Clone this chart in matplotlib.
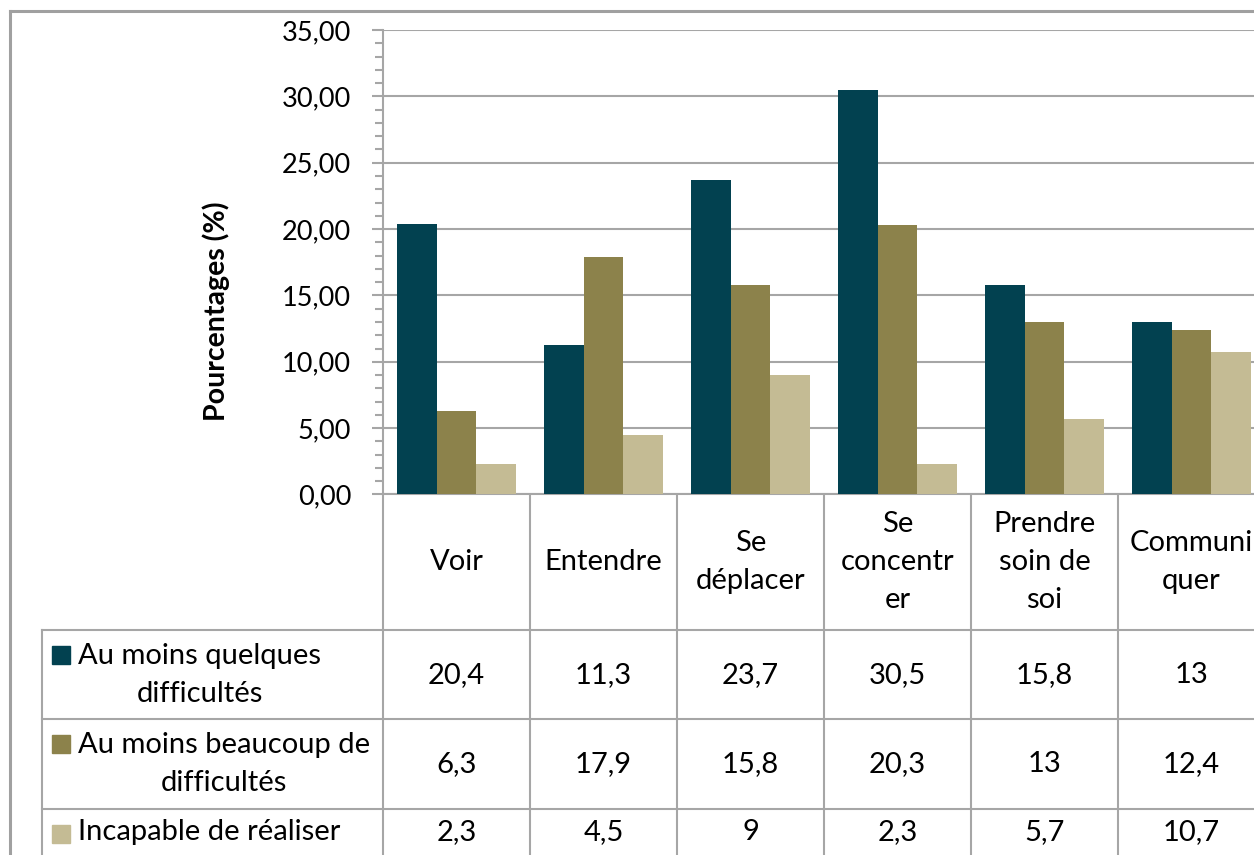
import matplotlib.pyplot as plt
import matplotlib.transforms as mtransforms
from matplotlib.patches import Rectangle
from matplotlib.lines import Line2D
from matplotlib.ticker import MultipleLocator, FuncFormatter

# données
categories = ["Voir", "Entendre", "Se\ndéplacer", "Se\nconcentr\ner",
              "Prendre\nsoin de\nsoi", "Communi\nquer"]
series = ["Au moins quelques\ndifficultés",
          "Au moins beaucoup de\ndifficultés",
          "Incapable de réaliser"]
quelques = [20.4, 11.3, 23.7, 30.5, 15.8, 13]
beaucoup = [6.3, 17.9, 15.8, 20.3, 13, 12.4]
incapable = [2.3, 4.5, 9, 2.3, 5.7, 10.7]
values = [quelques, beaucoup, incapable]
colors = ["#024150", "#8C824B", "#C4BB94"]

plt.rcParams["font.family"] = ["Lato", "DejaVu Sans"]
GRID = "#A6A6A6"
W, H = 1254, 855

fig = plt.figure(figsize=(W / 100, H / 100), dpi=100)

# zone de tracé (en pixels)
x0, x1, ytop, ybot = 383, 1265, 30, 494.5
ax = fig.add_axes([x0 / W, 1 - ybot / H, (x1 - x0) / W, (ybot - ytop) / H])

bw = 0.27
for k, (vals, c) in enumerate(zip(values, colors)):
    xs = [i + (k - 1) * bw for i in range(len(categories))]
    ax.bar(xs, vals, width=bw, color=c, zorder=3)

ax.set_xlim(-0.5, len(categories) - 0.5)
ax.set_ylim(0, 35)
ax.yaxis.set_major_locator(MultipleLocator(5))
ax.yaxis.set_minor_locator(MultipleLocator(1))
ax.yaxis.set_major_formatter(FuncFormatter(lambda v, p: f"{v:.2f}".replace(".", ",")))
ax.set_xticks([])
ax.grid(axis="y", color=GRID, linewidth=1.5, zorder=0)
for s in ["top", "right"]:
    ax.spines[s].set_visible(False)
for s in ["left", "bottom"]:
    ax.spines[s].set_color(GRID)
    ax.spines[s].set_linewidth(1.5)
ax.tick_params(axis="y", which="major", length=8, width=1.5, color=GRID,
               labelsize=19.5, pad=15)
ax.tick_params(axis="y", which="minor", length=5.5, width=1.5, color=GRID)

fig.text(216 / W, 1 - 311 / H, "Pourcentages (%)", rotation=90, fontsize=20.5,
         fontweight="bold", ha="center", va="center")

# tableau de données : x en unités de catégorie, y en pixels depuis le haut
tab = fig.add_axes([0, 0, 1, 1], zorder=-1)
tab.set_xlim(0, W)
tab.set_ylim(H, 0)
tab.axis("off")
tab.patch.set_alpha(0)
blend = mtransforms.blended_transform_factory(ax.transData, tab.transData)

lw = 1.5
for k in range(len(categories) + 1):
    tab.add_line(Line2D([k - 0.5, k - 0.5], [ybot, H], transform=blend,
                        color=GRID, lw=lw, clip_on=False))
for yy in [630, 719, 809]:
    tab.add_line(Line2D([42, W], [yy, yy], color=GRID, lw=lw))
tab.add_line(Line2D([42, 42], [630, H], color=GRID, lw=lw))

# cadre du graphique
tab.add_line(Line2D([10, 10], [11, H], color="#A0A0A0", lw=2.2))
tab.add_line(Line2D([10, W], [11, 11], color="#A0A0A0", lw=2.2))

fs = 21
for i, cat in enumerate(categories):
    tab.text(i, 562, cat, transform=blend, ha="center", va="center",
             fontsize=fs, linespacing=1.55, clip_on=False)

row_y = [675, 764, 832]
for r, (name, vals, c) in enumerate(zip(series, values, colors)):
    y = row_y[r]
    tab.add_patch(Rectangle((52, y - 29 if "\n" in name else y - 7), 18, 18,
                            color=c))
    tab.text(78, y, name, ha="left", va="center", multialignment="center",
             fontsize=fs, linespacing=1.55)
    for i, v in enumerate(vals):
        tab.text(i, y, f"{v:g}".replace(".", ","), transform=blend,
                 ha="center", va="center", fontsize=fs, clip_on=False)

fig.savefig("out.png", dpi=100)
